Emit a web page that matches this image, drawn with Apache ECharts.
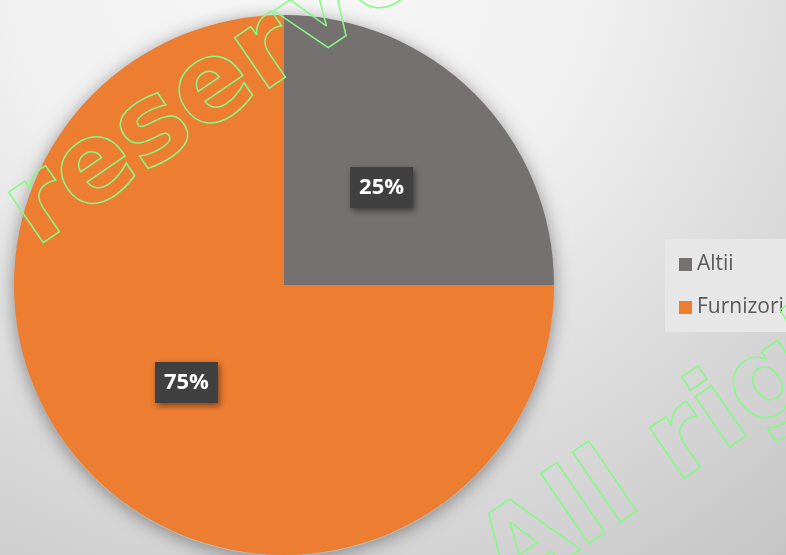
<!DOCTYPE html>
<html>
<head>
<meta charset="utf-8">
<script src="https://cdn.jsdelivr.net/npm/echarts@6/dist/echarts.min.js"></script>
<style>
  html, body { margin: 0; padding: 0; }
  #pieChart { width: 786px; height: 555px; }
</style>
</head>
<body>
<div id="pieChart"></div>
<script>
  var categories = ['Altii', 'Furnizori']
  var values = [25, 75]
  var colors = ['#767171', '#ED7D31']
  var watermarks = ['reserved', 'All rights']

  var pieData = []
  for (var i = 0; i < categories.length; i++) {
    pieData.push({
      name: categories[i],
      value: values[i],
      itemStyle: { color: colors[i] }
    })
  }

  var fontName = '"Open Sans", "Noto Sans", sans-serif'
  var markFont = 'bold 112px "DejaVu Sans", sans-serif'

  var myChart = echarts.init(document.getElementById('pieChart'))
  var option = {
    animation: false,
    graphic: [{
      type: 'rect',
      z: -100,
      silent: true,
      shape: { x: 0, y: 0, width: 786, height: 555 },
      style: {
        fill: {
          type: 'radial', x: 0.38, y: -0.09, r: 1.44,
          colorStops: [
            { offset: 0, color: '#f8f8f8' },
            { offset: 0.38, color: '#f0f0f0' },
            { offset: 1, color: '#c3c3c3' }
          ]
        }
      }
    }, {
      // watermark
      type: 'text',
      z: 100,
      silent: true,
      x: 19, y: 224,
      rotation: 0.6,
      style: {
        text: watermarks[0],
        font: markFont,
        fill: 'none',
        stroke: '#84fb84',
        lineWidth: 1.5,
        align: 'left',
        verticalAlign: 'middle'
      }
    }, {
      type: 'text',
      z: 100,
      silent: true,
      x: 493, y: 574,
      rotation: 0.6,
      style: {
        text: watermarks[1],
        font: markFont,
        fill: 'none',
        stroke: '#84fb84',
        lineWidth: 1.5,
        align: 'left',
        verticalAlign: 'middle'
      }
    }],
    legend: {
      data: categories,
      orient: 'vertical',
      left: 665,
      top: 239,
      padding: [15, 30, 14, 14],
      itemGap: 22,
      itemWidth: 13,
      itemHeight: 13,
      icon: 'rect',
      backgroundColor: '#e7e7e7',
      textStyle: {
        fontFamily: fontName,
        fontSize: 21,
        color: '#595959'
      }
    },
    series: [{
      // soft shadow behind the pie
      name: 'pieShadow',
      type: 'pie',
      silent: true,
      z: 1,
      center: [284, 286],
      radius: 270,
      label: { show: false },
      labelLine: { show: false },
      itemStyle: {
        color: '#bbbbbb',
        borderWidth: 0,
        shadowBlur: 18,
        shadowOffsetY: 2,
        shadowColor: 'rgba(0,0,0,0.4)'
      },
      data: [{ name: '', value: 1 }]
    }, {
      name: 'Share',
      type: 'pie',
      z: 2,
      center: [284, 285],
      radius: 270,
      startAngle: 90,
      clockwise: true,
      itemStyle: { borderWidth: 0 },
      label: {
        show: true,
        position: 'inside',
        formatter: '{d}%',
        fontFamily: fontName,
        fontWeight: 'bold',
        fontSize: 22,
        lineHeight: 23,
        color: '#ffffff',
        backgroundColor: '#404040',
        padding: [9, 9],
        shadowColor: 'rgba(0,0,0,0.45)',
        shadowBlur: 6,
        shadowOffsetX: 2,
        shadowOffsetY: 3
      },
      labelLine: { show: false },
      emphasis: { disabled: true },
      data: pieData
    }]
  }
  myChart.setOption(option)
</script>
</body>
</html>
